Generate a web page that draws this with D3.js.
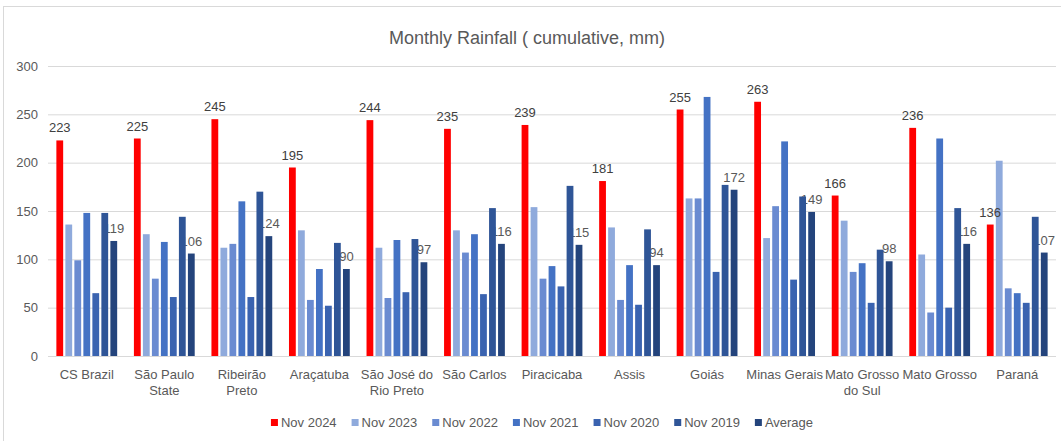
<!DOCTYPE html>
<html>
<head>
<meta charset="utf-8">
<script src="https://cdn.jsdelivr.net/npm/d3@7"></script>
<style>
  html, body { margin: 0; padding: 0; background: #fff; }
  svg { display: block; }
</style>
</head>
<body>
<svg id="chart" width="1061" height="441"></svg>
<script>
// chart data
const categories = ["CS Brazil", "São Paulo\nState", "Ribeirão\nPreto", "Araçatuba",
    "São José do\nRio Preto", "São Carlos", "Piracicaba", "Assis", "Goiás",
    "Minas Gerais", "Mato Grosso\ndo Sul", "Mato Grosso", "Paraná"];
const seriesNames = ["Nov 2024", "Nov 2023", "Nov 2022", "Nov 2021", "Nov 2020", "Nov 2019", "Average"];
const nov2024 = [223, 225, 245, 195, 244, 235, 239, 181, 255, 263, 166, 236, 136];
const nov2023 = [136, 126, 112, 130, 112, 130, 154, 133, 163, 122, 140, 105, 202];
const nov2022 = [99, 80, 116, 58, 60, 107, 80, 58, 163, 155, 87, 45, 70];
const nov2021 = [148, 118, 160, 90, 120, 126, 93, 94, 268, 222, 96, 225, 65];
const nov2020 = [65, 61, 61, 52, 66, 64, 72, 53, 87, 79, 55, 50, 55];
const nov2019 = [148, 144, 170, 117, 121, 153, 176, 131, 177, 165, 110, 153, 144];
const average = [119, 106, 124, 90, 97, 116, 115, 94, 172, 149, 98, 116, 107];
const yTicks = [0, 50, 100, 150, 200, 250, 300];

const seriesValues = [nov2024, nov2023, nov2022, nov2021, nov2020, nov2019, average];
const colors = ["#ff0000", "#8faadc", "#6a8bd1", "#4472c4", "#3a63b0", "#2f5597", "#24447c"];

const font = "'Liberation Sans Narrow', 'Liberation Sans', sans-serif";
const textColor = "#595959";

const svg = d3.select("#chart");
const W = 1061, H = 441;
const plot = {left: 48, right: 1056, top: 66, bottom: 356};

// outer frame
svg.append("rect")
    .attr("x", 3.5).attr("y", 6.5)
    .attr("width", W).attr("height", H)
    .attr("fill", "#fff")
    .attr("stroke", "#d9d9d9");

svg.append("text")
    .attr("x", 527).attr("y", 44)
    .attr("text-anchor", "middle")
    .attr("font-family", font).attr("font-size", 18)
    .attr("fill", textColor)
    .text("Monthly Rainfall ( cumulative, mm)");

const y = d3.scaleLinear().domain([0, 300]).range([plot.bottom, plot.top]);
const x0 = d3.scaleBand().domain(categories).range([plot.left, plot.right]);
const x1 = d3.scaleBand().domain(seriesNames).range([0, x0.bandwidth()])
    .paddingInner(0.245).paddingOuter(0.93);
const color = d3.scaleOrdinal().domain(seriesNames).range(colors);

// gridlines + y labels
const yAxis = d3.axisLeft(y).tickValues(yTicks).tickSize(-(plot.right - plot.left)).tickPadding(10);
const gy = svg.append("g").attr("transform", `translate(${plot.left},0)`).call(yAxis);
gy.select(".domain").remove();
gy.selectAll(".tick line").attr("stroke", "#d9d9d9");
gy.selectAll(".tick text")
    .attr("font-family", font).attr("font-size", 13)
    .attr("fill", textColor);

const rows = categories.map((c, i) => ({
    category: c,
    values: seriesNames.map((s, k) => ({series: s, value: seriesValues[k][i]}))
}));

const groups = svg.append("g").selectAll("g")
    .data(rows).join("g")
    .attr("transform", d => `translate(${x0(d.category)},0)`);

// average labels sit behind the bars (they are partly hidden in the original)
groups.selectAll("text.avg")
    .data(d => d.values.filter(v => v.series === "Average"))
    .join("text").attr("class", "avg")
    .attr("x", d => x1(d.series) + x1.bandwidth() / 2)
    .attr("y", d => y(d.value) - 8)
    .attr("text-anchor", "middle")
    .attr("font-family", font).attr("font-size", 13)
    .attr("fill", textColor)
    .text(d => d.value);

groups.selectAll("rect")
    .data(d => d.values)
    .join("rect")
    .attr("x", d => x1(d.series))
    .attr("y", d => y(d.value))
    .attr("width", x1.bandwidth())
    .attr("height", d => y(0) - y(d.value))
    .attr("fill", d => color(d.series));

groups.selectAll("text.top")
    .data(d => d.values.filter(v => v.series === "Nov 2024"))
    .join("text").attr("class", "top")
    .attr("x", d => x1(d.series) + x1.bandwidth() / 2)
    .attr("y", d => y(d.value) - 8)
    .attr("text-anchor", "middle")
    .attr("font-family", font).attr("font-size", 13)
    .attr("fill", "#404040")
    .text(d => d.value);

// category labels, wrapped like the original
const gx = svg.append("g").selectAll("text")
    .data(categories).join("text")
    .attr("x", d => x0(d) + x0.bandwidth() / 2)
    .attr("y", 379)
    .attr("text-anchor", "middle")
    .attr("font-family", font).attr("font-size", 13)
    .attr("fill", textColor);
gx.selectAll("tspan")
    .data(d => d.split("\n").map(l => ({l, cx: x0(d) + x0.bandwidth() / 2})))
    .join("tspan")
    .attr("x", d => d.cx)
    .attr("dy", (d, i) => i ? 16 : 0)
    .text(d => d.l);

// legend, centred under the plot
const legend = svg.append("g");
let lx = 0;
seriesNames.forEach(s => {
    const item = legend.append("g").attr("transform", `translate(${lx},0)`);
    item.append("rect").attr("x", 0).attr("y", -4).attr("width", 7).attr("height", 7)
        .attr("fill", color(s));
    const t = item.append("text").attr("x", 10).attr("y", 4)
        .attr("font-family", font).attr("font-size", 13)
        .attr("fill", textColor).text(s);
    lx += 10 + t.node().getComputedTextLength() + 15;
});
const legendW = lx - 15;
legend.attr("transform", `translate(${542 - legendW / 2},423)`);
</script>
</body>
</html>
